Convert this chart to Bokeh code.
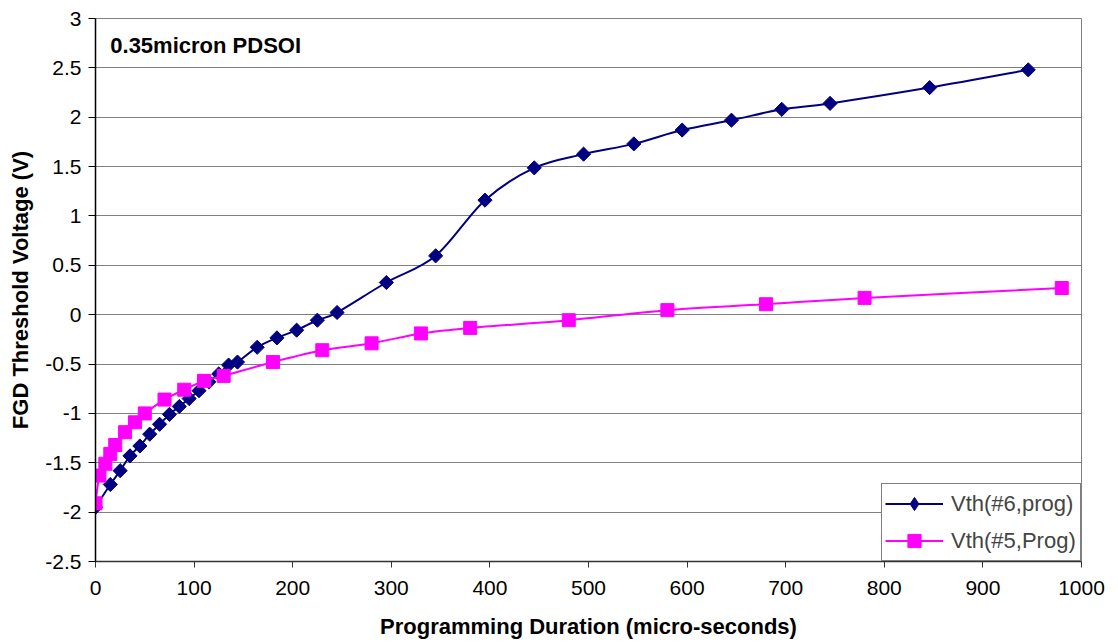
import numpy as np
from bokeh.plotting import figure
from bokeh.models import Range1d, FixedTicker, Label, ColumnDataSource, Legend, LegendItem
from bokeh.embed import file_html
from bokeh.resources import INLINE

# Device #6 programming: threshold voltage vs. programming time
t6 = [0, 15, 25, 35, 45, 55, 65, 75, 85, 95, 105, 115, 125, 135, 144, 164, 184,
      204, 225, 245, 295, 345, 395, 445, 495, 546, 595, 645, 696, 745, 846, 946]
v6 = [-1.95, -1.72, -1.58, -1.43, -1.33, -1.21, -1.11, -1.01, -0.93, -0.85, -0.77,
      -0.68, -0.60, -0.51, -0.48, -0.33, -0.235, -0.157, -0.056, 0.022, 0.326,
      0.596, 1.16, 1.487, 1.626, 1.73, 1.87, 1.97, 2.08, 2.14, 2.30, 2.48]

# Device #5 programming
t5 = [0, 4, 10, 15, 20, 30, 40, 50, 70, 90, 110, 130, 180, 230, 280, 330, 380,
      480, 580, 680, 780, 980]
v5 = [-1.91, -1.63, -1.51, -1.41, -1.32, -1.19, -1.09, -1.00, -0.86, -0.76, -0.67,
      -0.62, -0.48, -0.36, -0.29, -0.19, -0.134, -0.056, 0.046, 0.106, 0.17, 0.27]

x_ticks = [0, 100, 200, 300, 400, 500, 600, 700, 800, 900, 1000]
y_ticks = [-2.5, -2, -1.5, -1, -0.5, 0, 0.5, 1, 1.5, 2, 2.5, 3]
y_tick_labels = ["-2.5", "-2", "-1.5", "-1", "-0.5", "0", "0.5", "1", "1.5", "2", "2.5", "3"]

FONT = "Liberation Sans"
NAVY = "#000080"
MAGENTA = "#FF00FF"


def smooth_segments(x, y):
    """Cubic Bezier segments (Catmull-Rom style) through the points."""
    x = np.asarray(x, float)
    y = np.asarray(y, float)
    n = len(x)
    i = np.arange(n - 1)
    ip = np.clip(i - 1, 0, n - 1)
    inx = np.clip(i + 2, 0, n - 1)
    cx0 = x[i] + (x[i + 1] - x[ip]) / 6.0
    cy0 = y[i] + (y[i + 1] - y[ip]) / 6.0
    cx1 = x[i + 1] - (x[inx] - x[i]) / 6.0
    cy1 = y[i + 1] - (y[inx] - y[i]) / 6.0
    return ColumnDataSource(dict(x0=x[i], y0=y[i], x1=x[i + 1], y1=y[i + 1],
                                 cx0=cx0, cy0=cy0, cx1=cx1, cy1=cy1))


p = figure(width=1118, height=643, output_backend="svg", toolbar_location=None,
           x_range=Range1d(0, 1000), y_range=Range1d(-2.5, 3),
           min_border_left=95, min_border_right=37, min_border_top=18,
           min_border_bottom=82)
p.background_fill_color = "white"
p.border_fill_color = "white"
p.outline_line_color = "#808080"
p.outline_line_width = 1

# axes
p.xaxis.ticker = FixedTicker(ticks=x_ticks)
p.yaxis.ticker = FixedTicker(ticks=y_ticks)
p.yaxis.major_label_overrides = {float(t): s for t, s in zip(y_ticks, y_tick_labels)}
for ax in (p.xaxis, p.yaxis):
    ax.major_label_text_font = FONT
    ax.major_label_text_font_size = "21px"
    ax.major_label_text_color = "black"
    ax.axis_label_text_font = FONT
    ax.axis_label_text_font_size = "22px"
    ax.axis_label_text_font_style = "bold"
    ax.axis_label_text_color = "black"
    ax.minor_tick_line_color = None
    ax.major_tick_in = 0
p.xaxis.axis_label = "Programming Duration (micro-seconds)"
p.yaxis.axis_label = "FGD Threshold Voltage (V)"
p.xaxis.major_tick_out = 6
p.yaxis.major_tick_out = 7
p.xaxis.major_label_standoff = 13
p.yaxis.major_label_standoff = 7
p.xaxis.axis_label_standoff = 16
p.yaxis.axis_label_standoff = 9
p.xaxis.axis_line_color = "#333333"
p.xaxis.major_tick_line_color = "#333333"
p.yaxis.axis_line_color = "black"
p.yaxis.major_tick_line_color = "black"
p.xaxis.axis_line_width = 1.5
p.yaxis.axis_line_width = 1.5

p.xgrid.grid_line_color = None
p.ygrid.grid_line_color = "#7f7f7f"
p.ygrid.grid_line_width = 1

# series #6: smoothed line plus rotated-square markers
curve6 = p.bezier(x0="x0", y0="y0", x1="x1", y1="y1", cx0="cx0", cy0="cy0",
                  cx1="cx1", cy1="cy1", source=smooth_segments(t6, v6),
                  line_color=NAVY, line_width=2)
p.scatter(t6, v6, marker="square", angle=np.pi / 4, size=10, fill_color=NAVY,
          line_color=NAVY)
key6 = p.scatter([np.nan], [np.nan], marker="diamond", size=14, fill_color=NAVY,
                 line_color=NAVY)

# series #5
curve5 = p.bezier(x0="x0", y0="y0", x1="x1", y1="y1", cx0="cx0", cy0="cy0",
                  cx1="cx1", cy1="cy1", source=smooth_segments(t5, v5),
                  line_color=MAGENTA, line_width=2)
marks5 = p.scatter(t5, v5, marker="square", size=13, fill_color=MAGENTA,
                   line_color=MAGENTA)

p.add_layout(Label(x=15, y=2.73, text="0.35micron PDSOI", text_font=FONT,
                   text_font_size="22px", text_font_style="bold",
                   text_baseline="middle", text_color="black"))

lg = Legend(items=[LegendItem(label="Vth(#6,prog)", renderers=[curve6, key6]),
                   LegendItem(label="Vth(#5,Prog)", renderers=[curve5, marks5])])
lg.location = "bottom_right"
lg.margin = 0
lg.padding = 3
lg.spacing = 4
lg.glyph_width = 58
lg.glyph_height = 33
lg.label_height = 33
lg.label_width = 126
lg.label_standoff = 8
lg.label_text_font = FONT
lg.label_text_font_size = "22px"
lg.border_line_color = "black"
lg.border_line_width = 1
lg.background_fill_color = "white"
lg.background_fill_alpha = 1
p.add_layout(lg, "center")

open("out.html", "w").write(file_html(p, INLINE))
